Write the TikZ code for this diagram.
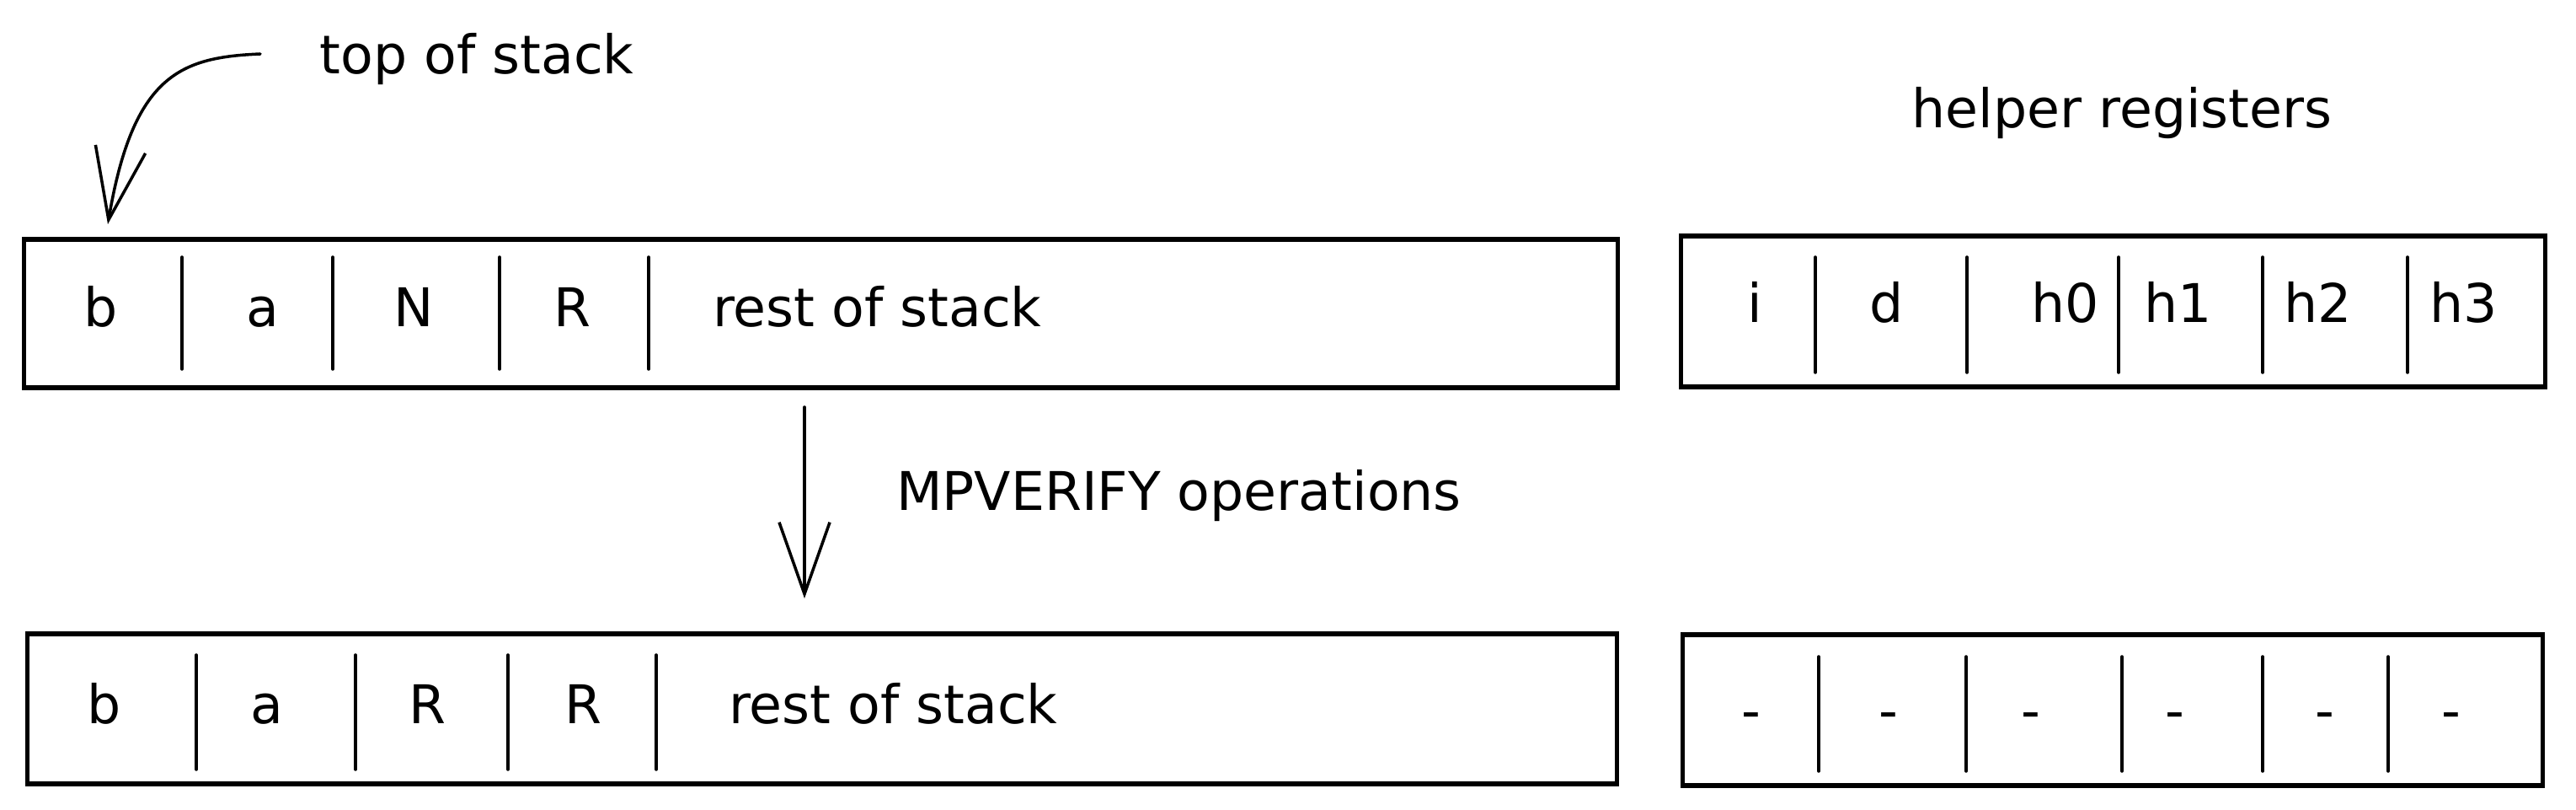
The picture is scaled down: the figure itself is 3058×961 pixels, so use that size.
\documentclass[tikz,border=0pt]{standalone}
\usepackage{fontspec}
\setmainfont{DejaVu Sans}
\usetikzlibrary{arrows.meta}
\tikzset{
  box/.style={draw=black, line width=1.5pt, inner sep=0pt, outer sep=0pt, rectangle},
  divider/.style={draw=black, line width=1pt, line cap=round},
  lbl/.style={inner sep=0pt, outer sep=0pt, anchor=base, font=\fontsize{18pt}{22pt}\selectfont},
  lblw/.style={lbl, anchor=base west},
  arr/.style={draw=black, line width=1pt, line cap=round, -{Straight Barb[length=0.85cm,width=0.6cm]}}
}
\begin{document}
\begin{tikzpicture}[x=0.01cm, y=-0.01cm]
\useasboundingbox (0,0) rectangle (3058,961);

% boxes
\node[box, minimum width=18.91cm, minimum height=1.76cm] (stk1) at (974.5,372) {};
\node[box, minimum width=10.25cm, minimum height=1.79cm] (reg1) at (2508.5,369.5) {};
\node[box, minimum width=18.86cm, minimum height=1.78cm] (stk2) at (976,841) {};
\node[box, minimum width=10.20cm, minimum height=1.79cm] (reg2) at (2508,842.5) {};

% dividers
\foreach \x in {216,395,593,770} \draw[divider] (\x,305) -- (\x,438);
\foreach \x in {2155,2335,2515,2686,2858} \draw[divider] (\x,305) -- (\x,442);
\foreach \x in {233,422,603,779} \draw[divider] (\x,777) -- (\x,913);
\foreach \x in {2159,2334,2519,2686,2835} \draw[divider] (\x,779) -- (\x,915);

% top stack contents
\node[lbl] (s1b) at (120,388) {b};
\node[lbl] (s1a) at (312,388) {a};
\node[lbl] (s1n) at (491,388) {N};
\node[lbl] (s1r) at (679,388) {R};
\node[lblw] (s1rest) at (846,388) {rest of stack};

% helper registers contents
\node[lbl] (r1i) at (2083,383) {i};
\node[lbl] (r1d) at (2240,383) {d};
\node[lbl] (r1h0) at (2452,383) {h0};
\node[lbl] (r1h1) at (2586,383) {h1};
\node[lbl] (r1h2) at (2752,383) {h2};
\node[lbl] (r1h3) at (2925,383) {h3};

% bottom stack contents
\node[lbl] (s2b) at (124,858) {b};
\node[lbl] (s2a) at (317,858) {a};
\node[lbl] (s2r1) at (507,858) {R};
\node[lbl] (s2r2) at (692,858) {R};
\node[lblw] (s2rest) at (865,858) {rest of stack};

% bottom helper registers
\node[lbl] (r2a) at (2079,865) {-};
\node[lbl] (r2b) at (2242,865) {-};
\node[lbl] (r2c) at (2411,865) {-};
\node[lbl] (r2d) at (2582,865) {-};
\node[lbl] (r2e) at (2760,865) {-};
\node[lbl] (r2f) at (2910,865) {-};

% labels
\node[lbl] (tos) at (566,88) {top of stack};
\node[lbl] (helper) at (2519,152) {helper registers};
\node[lblw] (ops) at (1064,605) {MPVERIFY operations};

% arrows
\coordinate (tosA) at (309,64);
\coordinate (tosB) at (128,266);
\draw[arr] (tosA) .. controls (215,68) and (158,88) .. (tosB);

\coordinate (opA) at (955,483);
\coordinate (opB) at (955,710);
\draw[arr] (opA) -- (opB);
\end{tikzpicture}
\end{document}
